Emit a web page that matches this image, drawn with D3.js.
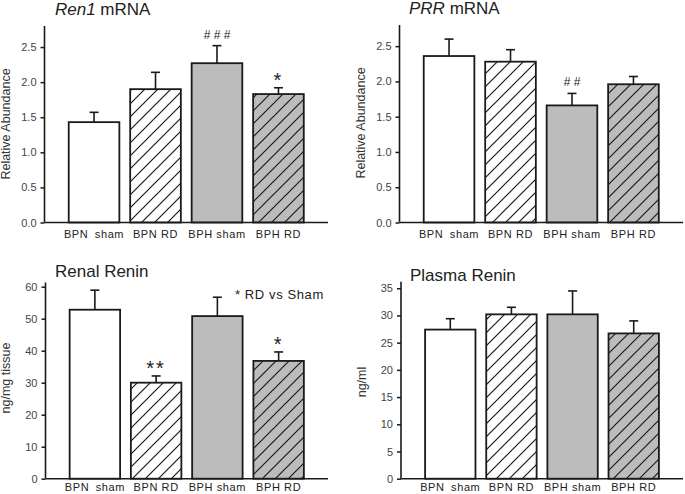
<!DOCTYPE html>
<html><head><meta charset="utf-8">
<script src="https://cdn.jsdelivr.net/npm/d3@7"></script>
<style>
html,body{margin:0;padding:0;background:#fff;}
svg{display:block;font-family:"Liberation Sans",Arial,sans-serif;}
</style></head>
<body><svg id="c" width="685" height="494"></svg>
<script>
const categories = ["BPN sham","BPN RD","BPH sham","BPH RD"];
const fills = ["white","hatchWhite","gray","hatchGray"];

const ren1Mean = [1.43, 1.90, 2.27, 1.83];
const ren1Err  = [0.14, 0.24, 0.25, 0.09];
const ren1Marks = ["", "", "# # #", "*"];
const ren1Ticks = [0, 0.5, 1.0, 1.5, 2.0, 2.5];

const prrMean = [2.36, 2.28, 1.66, 1.96];
const prrErr  = [0.24, 0.17, 0.17, 0.11];
const prrMarks = ["", "", "# #", ""];
const prrTicks = [0, 0.5, 1.0, 1.5, 2.0, 2.5];

const renalMean = [52.8, 30.0, 50.8, 36.8];
const renalErr  = [6.1, 2.1, 5.9, 2.8];
const renalMarks = ["", "**", "", "*"];
const renalTicks = [0, 10, 20, 30, 40, 50, 60];

const plasmaMean = [27.4, 30.2, 30.2, 26.7];
const plasmaErr  = [2.0, 1.3, 4.3, 2.3];
const plasmaMarks = ["", "", "", ""];
const plasmaTicks = [0, 5, 10, 15, 20, 25, 30, 35];

const svg = d3.select("#c");
const defs = svg.append("defs");
const GRAY = "#bcbcbc";
function hatch(id, bg){
  const p = defs.append("pattern").attr("id", id).attr("patternUnits","userSpaceOnUse")
    .attr("width", 13).attr("height", 13);
  p.append("rect").attr("width",13).attr("height",13).attr("fill",bg);
  p.append("path").attr("d","M-1,14 L14,-1 M-7,7 L7,-7 M6,20 L20,6")
    .attr("stroke","#1a1a1a").attr("stroke-width",1.2);
}
hatch("hatchWhite","#fff");
hatch("hatchGray",GRAY);
const fillOf = f => f==="white" ? "#fff" : f==="gray" ? GRAY : `url(#${f})`;

function panel(o){
  const g = svg.append("g");
  const x = d3.scaleBand().domain(categories).range([o.x0, o.x1]).paddingInner(0.176).paddingOuter(0.394);
  const y = d3.scaleLinear().domain([0, o.max]).range([o.base, o.top]);
  categories.forEach((c,i)=>{
    const m = o.mean[i], e = o.err[i];
    const cx = x(c) + x.bandwidth()/2;
    g.append("line").attr("x1",cx).attr("x2",cx).attr("y1",y(m)).attr("y2",y(m+e))
      .attr("stroke","#1a1a1a").attr("stroke-width",1.6);
    g.append("line").attr("x1",cx-4.5).attr("x2",cx+4.5).attr("y1",y(m+e)).attr("y2",y(m+e))
      .attr("stroke","#1a1a1a").attr("stroke-width",1.6);
    g.append("rect").attr("x",x(c)).attr("y",y(m)).attr("width",x.bandwidth()).attr("height",y(0)-y(m))
      .attr("fill",fillOf(fills[i])).attr("stroke","#1a1a1a").attr("stroke-width",1.8);
    const mk = o.marks[i];
    if(mk){
      const isStar = mk.indexOf("*")>=0;
      g.append("text").attr("x",cx).attr("y", y(m+e) - (isStar ? 1 : 7))
        .attr("text-anchor","middle").attr("font-size", isStar ? 20 : 12)
        .attr("letter-spacing", isStar ? "2px" : "0px")
        .attr("fill","#222").text(mk);
    }
  });
  const ya = g.append("g").attr("transform",`translate(${o.x0},0)`)
    .call(d3.axisLeft(y).tickValues(o.ticks).tickSize(4).tickPadding(4)
      .tickFormat(o.fmt));
  ya.select(".domain").remove();
  ya.selectAll(".tick line").attr("stroke","#1a1a1a").attr("stroke-width",1.5);
  ya.selectAll(".tick text").attr("font-size",11).attr("fill","#444")
    .attr("font-family","\"Liberation Sans\",Arial,sans-serif");
  g.append("line").attr("x1",o.x0).attr("x2",o.x0).attr("y1",o.base).attr("y2",o.top)
    .attr("stroke","#1a1a1a").attr("stroke-width",1.6);
  g.append("line").attr("x1",o.x0).attr("x2",o.x1).attr("y1",o.base).attr("y2",o.base)
    .attr("stroke","#1a1a1a").attr("stroke-width",1.6);
  categories.forEach(c=>{
    g.append("text").attr("x", x(c)+x.bandwidth()/2).attr("y", o.labY)
      .attr("text-anchor","middle").attr("font-size",11).attr("letter-spacing","0.6px")
      .attr("fill","#222").text(c === "BPN sham" ? "BPN\u2009 sham" : c);
  });
  g.append("text").attr("transform",`translate(${o.ytX},${o.ytY}) rotate(-90)`)
    .attr("text-anchor","middle").attr("font-size",12.5).attr("fill","#333").text(o.ytitle);
  const t = g.append("text").attr("x",o.tX).attr("y",o.tY).attr("font-size",17).attr("fill","#222");
  o.title.forEach(s=>{ t.append("tspan").attr("font-style", s[1] ? "italic" : "normal").text(s[0]); });
  return {g,x,y};
}

panel({x0:44.5, x1:328, top:26, base:222.5, max:2.8, mean:ren1Mean, err:ren1Err, marks:ren1Marks,
  ticks:ren1Ticks, fmt:d3.format(".1f"), labY:238, ytitle:"Relative Abundance", ytX:10, ytY:124,
  title:[["Ren1",true],[" mRNA",false]], tX:55, tY:15});
panel({x0:399.5, x1:683, top:25, base:222.5, max:2.8, mean:prrMean, err:prrErr, marks:prrMarks,
  ticks:prrTicks, fmt:d3.format(".1f"), labY:238, ytitle:"Relative Abundance", ytX:365, ytY:123,
  title:[["PRR",true],[" mRNA",false]], tX:409, tY:14});
const p3 = panel({x0:45.5, x1:328, top:282.5, base:478.7, max:61.3, mean:renalMean, err:renalErr, marks:renalMarks,
  ticks:renalTicks, fmt:d3.format("d"), labY:491, ytitle:"ng/mg tissue", ytX:9.5, ytY:378,
  title:[["Renal Renin",false]], tX:55, tY:277});
panel({x0:401, x1:683, top:281.7, base:478.7, max:36.2, mean:plasmaMean, err:plasmaErr, marks:plasmaMarks,
  ticks:plasmaTicks, fmt:d3.format("d"), labY:491, ytitle:"ng/ml", ytX:366, ytY:382,
  title:[["Plasma Renin",false]], tX:410, tY:281});
p3.g.append("text").attr("x",235).attr("y",299).attr("font-size",13).attr("letter-spacing","0.6px")
  .attr("fill","#222").text("* RD vs Sham");
</script></body></html>
